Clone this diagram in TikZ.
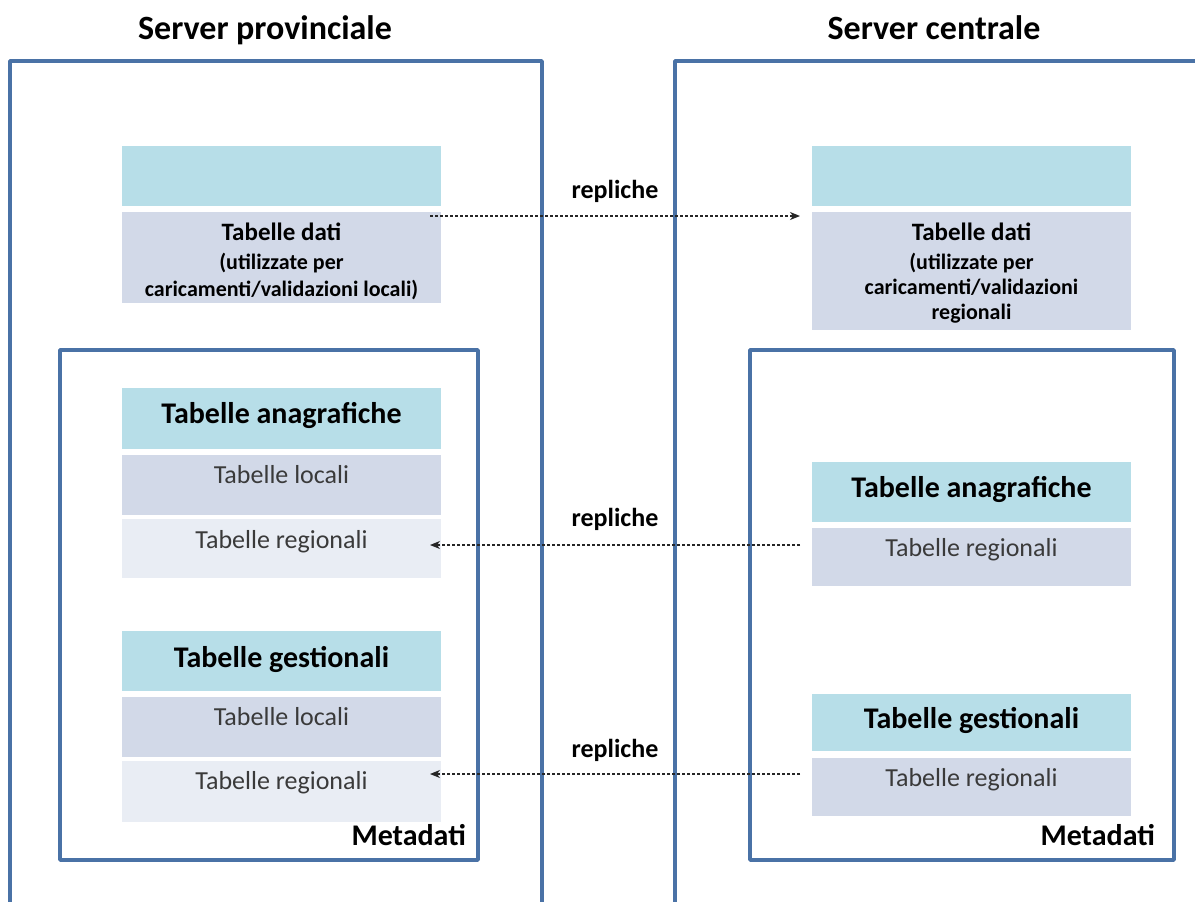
\documentclass[tikz,border=0pt]{standalone}
\usepackage{fontspec}
\setmainfont{Carlito}
\usetikzlibrary{arrows.meta}
\definecolor{frameblue}{HTML}{4A72A6}
\definecolor{hdrcyan}{HTML}{B7DEE8}
\definecolor{bodylav}{HTML}{D2D9E8}
\definecolor{bodylight}{HTML}{E9EDF4}
\definecolor{txtgray}{HTML}{3A3A3A}
\begin{document}
\begin{tikzpicture}[x=1pt,y=-1pt,
  frame/.style={draw=frameblue, line width=3.6pt, line join=round},
  cell/.style={minimum width=319pt, inner sep=0pt, outer sep=0pt, draw=none},
  hdr/.style={cell, fill=hdrcyan},
  lav/.style={cell, fill=bodylav},
  light/.style={cell, fill=bodylight},
  title/.style={anchor=base, inner sep=0pt, font=\fontsize{34}{40}\selectfont\bfseries},
  hdrtxt/.style={anchor=base, inner sep=0pt, font=\fontsize{30}{36}\selectfont\bfseries},
  datitxt/.style={anchor=base, inner sep=0pt, font=\fontsize{25}{30}\selectfont\bfseries},
  subtxt/.style={anchor=base, inner sep=0pt, font=\fontsize{22}{27}\selectfont\bfseries},
  rowtxt/.style={anchor=base, inner sep=0pt, text=txtgray, font=\fontsize{26}{31}\selectfont},
  reptxt/.style={anchor=base, inner sep=0pt, font=\fontsize{26}{31}\selectfont\bfseries},
  metatxt/.style={anchor=base east, inner sep=0pt, font=\fontsize{30}{36}\selectfont\bfseries},
  replica/.style={draw=black!85, line width=1.4pt, dash pattern=on 3pt off 2pt, -{Stealth[length=10pt,width=8pt,inset=3pt]}}
]
\useasboundingbox (0,0) rectangle (1195,902);
\fill[white] (0,0) rectangle (1195,902);

% titles
\node[title] (tprov) at (265,39) {Server provinciale};
\node[title] (tcent) at (934,39) {Server centrale};

% outer frames
\draw[frame] (10,910) -- (10,61) -- (542,61) -- (542,910);
\draw[frame] (675,910) -- (675,61) -- (1205,61);

% metadati frames
\draw[frame] (60,350) rectangle (478,860);
\draw[frame] (750,350) rectangle (1174,860);
\node[metatxt] (mleft) at (466,845) {Metadati};
\node[metatxt] (mright) at (1155,845) {Metadati};

% ---------- left: tabelle dati
\node[hdr, minimum height=60pt] (LDh) at (281.5,176) {};
\node[lav, minimum height=91pt] (LDb) at (281.5,257.5) {};
\node[datitxt] (LDt1) at (281.5,240) {Tabelle dati};
\node[subtxt] (LDt2) at (281.5,269) {(utilizzate per};
\node[subtxt] (LDt3) at (281.5,296) {caricamenti/validazioni locali)};

% ---------- right: tabelle dati
\node[hdr, minimum height=60pt] (RDh) at (971.5,176) {};
\node[lav, minimum height=118pt] (RDb) at (971.5,271) {};
\node[datitxt] (RDt1) at (971.5,240) {Tabelle dati};
\node[subtxt] (RDt2) at (971.5,269) {(utilizzate per};
\node[subtxt] (RDt3) at (971.5,294) {caricamenti/validazioni};
\node[subtxt] (RDt4) at (971.5,319) {regionali};

% ---------- left: anagrafiche
\node[hdr, minimum height=61pt] (LAh) at (281.5,418.5) {};
\node[hdrtxt] (LAht) at (281.5,423) {Tabelle anagrafiche};
\node[lav, minimum height=60pt] (LAl) at (281.5,485) {};
\node[rowtxt] (LAlt) at (281.5,483) {Tabelle locali};
\node[light, minimum height=59pt] (LAr) at (281.5,548.5) {};
\node[rowtxt] (LArt) at (281.5,548) {Tabelle regionali};

% ---------- left: gestionali
\node[hdr, minimum height=60pt] (LGh) at (281.5,661) {};
\node[hdrtxt] (LGht) at (281.5,667) {Tabelle gestionali};
\node[lav, minimum height=60pt] (LGl) at (281.5,727) {};
\node[rowtxt] (LGlt) at (281.5,725) {Tabelle locali};
\node[light, minimum height=61pt] (LGr) at (281.5,791.5) {};
\node[rowtxt] (LGrt) at (281.5,789) {Tabelle regionali};

% ---------- right: anagrafiche
\node[hdr, minimum height=60pt] (RAh) at (971.5,492) {};
\node[hdrtxt] (RAht) at (971.5,497) {Tabelle anagrafiche};
\node[lav, minimum height=58pt] (RAr) at (971.5,557) {};
\node[rowtxt] (RArt) at (971.5,556) {Tabelle regionali};

% ---------- right: gestionali
\node[hdr, minimum height=57pt] (RGh) at (971.5,722.5) {};
\node[hdrtxt] (RGht) at (971.5,728) {Tabelle gestionali};
\node[lav, minimum height=58pt] (RGr) at (971.5,787) {};
\node[rowtxt] (RGrt) at (971.5,786) {Tabelle regionali};

% ---------- replication arrows
\coordinate (a1s) at (430,216);
\coordinate (a1e) at (800,216);
\coordinate (a2s) at (800,545);
\coordinate (a2e) at (430,545);
\coordinate (a3s) at (800,774);
\coordinate (a3e) at (430,774);
\draw[replica] (a1s) -- (a1e);
\draw[replica] (a2s) -- (a2e);
\draw[replica] (a3s) -- (a3e);
\node[reptxt] (r1) at (615,198) {repliche};
\node[reptxt] (r2) at (615,526) {repliche};
\node[reptxt] (r3) at (615,757) {repliche};
\end{tikzpicture}
\end{document}
